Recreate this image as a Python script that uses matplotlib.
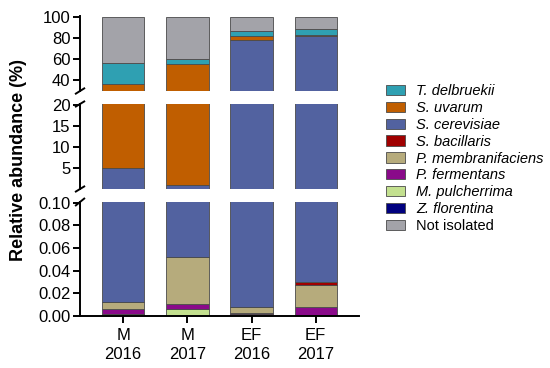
import numpy as np
import matplotlib.pyplot as plt

plt.rcParams['font.family'] = ['Liberation Sans', 'DejaVu Sans']

# =========================
# DATOS
# =========================
grupos = ["M\n2016", "M\n2017", "EF\n2016", "EF\n2017"]

especies = ["Z. florentina", "M. pulcherrima", "P. fermentans", "P. membranifaciens",
            "S. bacillaris", "S. cerevisiae", "S. uvarum", "T. delbruekii", "Not isolated"]
colores = ["#00007f", "#c3e08f", "#8a0a8a", "#b6ab7c", "#a00000",
           "#5262a0", "#c05e00", "#2fa0b2", "#a3a3a9"]
orden_leyenda = ["T. delbruekii", "S. uvarum", "S. cerevisiae", "S. bacillaris",
                 "P. membranifaciens", "P. fermentans", "M. pulcherrima",
                 "Z. florentina", "Not isolated"]

z_florentina = [0.0, 0.0, 0.0, 0.0]
m_pulcherrima = [0.002, 0.006, 0.0015, 0.0]
p_fermentans = [0.0045, 0.005, 0.0015, 0.008]
p_membranifaciens = [0.0055, 0.041, 0.0045, 0.019]
s_bacillaris = [0.0, 0.0, 0.0, 0.003]
s_cerevisiae = [4.99, 1.05, 77.99, 81.27]
s_uvarum = [31.3, 54.5, 4.0, 1.7]
t_delbruekii = [19.7, 4.7, 4.2, 5.5]
not_isolated = [44.0, 39.7, 13.8, 11.5]

series = [z_florentina, m_pulcherrima, p_fermentans, p_membranifaciens,
          s_bacillaris, s_cerevisiae, s_uvarum, t_delbruekii, not_isolated]

# =========================
# FIGURA
# =========================
fig = plt.figure(figsize=(5.5, 3.68), dpi=100)
izq, ancho = 0.1455, 0.507
ax_top = fig.add_axes([izq, 0.7527, ancho, 0.2038])
ax_mid = fig.add_axes([izq, 0.4864, ancho, 0.2310])
ax_bot = fig.add_axes([izq, 0.1413, ancho, 0.3098])
ejes = [ax_top, ax_mid, ax_bot]

x = np.arange(len(grupos))
for ax in ejes:
    base = np.zeros(len(grupos))
    for nombre, vals, col in zip(especies, series, colores):
        ax.bar(x, vals, bottom=base, width=0.66, color=col, edgecolor="#4a4a4a",
               linewidth=0.6, label=nombre)
        base += np.array(vals)
    ax.set_xlim(-0.672, 3.672)
    for s in ["top", "right"]:
        ax.spines[s].set_visible(False)
    ax.spines["left"].set_linewidth(1.4)
    ax.tick_params(axis="y", labelsize=12, width=1.4, length=5, pad=2)

ax_top.set_ylim(30, 100.5)
ax_top.set_yticks([40, 60, 80, 100])
ax_mid.set_ylim(0.1, 20.2)
ax_mid.set_yticks([5, 10, 15, 20])
ax_bot.set_ylim(0, 0.1005)
ax_bot.set_yticks([0.0, 0.02, 0.04, 0.06, 0.08, 0.10])
ax_bot.set_yticklabels(["0.00", "0.02", "0.04", "0.06", "0.08", "0.10"])

for ax in [ax_top, ax_mid]:
    ax.spines["bottom"].set_visible(False)
    ax.set_xticks([])
ax_bot.spines["bottom"].set_linewidth(1.4)
ax_bot.set_xticks(x)
ax_bot.set_xticklabels(grupos, fontsize=12, linespacing=1.35)
ax_bot.tick_params(axis="x", width=1.4, length=5)

# marcas de corte
for ax, pos in [(ax_top, 0), (ax_mid, 0), (ax_mid, 1), (ax_bot, 1)]:
    h = 0.035 if ax is ax_top else 0.03
    ax.plot([-0.015, 0.015], [pos - h, pos + h], transform=ax.transAxes,
            color="k", lw=1.4, clip_on=False)

fig.text(0.033, 0.565, "Relative abundance (%)", rotation=90, fontsize=13,
         fontweight="bold", ha="center", va="center")

# leyenda
handles, labels = ax_bot.get_legend_handles_labels()
mapa = dict(zip(labels, handles))
leg = fig.legend([mapa[n] for n in orden_leyenda], orden_leyenda, loc="upper left",
                 bbox_to_anchor=(386 / 550, 0.772), frameon=False, fontsize=10.5,
                 handlelength=1.3, handleheight=0.7, labelspacing=0.2,
                 handletextpad=0.75, borderpad=0, borderaxespad=0)
for t in leg.get_texts():
    if t.get_text() != "Not isolated":
        t.set_style("italic")

fig.savefig("out.png", dpi=100)
plt.close()
